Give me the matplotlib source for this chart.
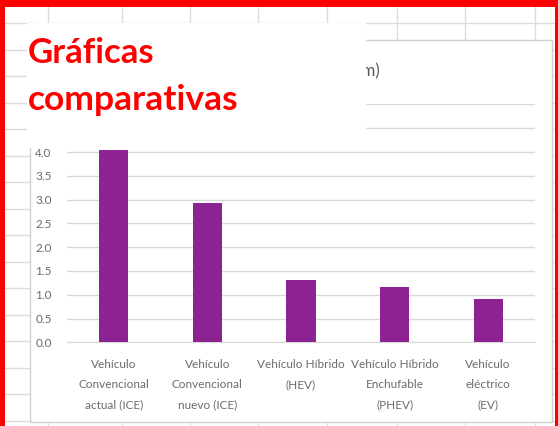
import matplotlib
matplotlib.use("Agg")
import matplotlib.pyplot as plt
from matplotlib.patches import Rectangle

# chart data
categories = [
    "Vehículo\nConvencional\nactual (ICE)",
    "Vehículo\nConvencional\nnuevo (ICE)",
    "Vehículo Híbrido\n(HEV)",
    "Vehículo Híbrido\nEnchufable\n(PHEV)",
    "Vehículo\neléctrico\n(EV)",
]
values = [4.05, 2.93, 1.30, 1.16, 0.90]
y_ticks = [0.0, 0.5, 1.0, 1.5, 2.0, 2.5, 3.0, 3.5, 4.0, 4.5, 5.0]

W, H = 558, 426
fig = plt.figure(figsize=(W / 100, H / 100), dpi=100)
plt.rcParams['font.family'] = ['Lato', 'DejaVu Sans']


def fx(px):
    return px / W


def fy(py):
    return 1 - py / H


# background: spreadsheet grid + chart area, pixel coordinates
bg = fig.add_axes([0, 0, 1, 1], zorder=0)
bg.set_xlim(0, W)
bg.set_ylim(H, 0)
bg.axis("off")
for x in [48, 122, 190, 258, 327, 397, 465, 535]:
    bg.plot([x, x], [0, H], color="#dcdcdc", lw=1, zorder=1)
y = 23.0
while y < H:
    bg.plot([0, W], [y, y], color="#dcdcdc", lw=1, zorder=1)
    y += 26.5
bg.add_patch(Rectangle((30, 40), 522, 382, facecolor="white",
                       edgecolor="#d0d0d0", lw=1, zorder=3))
bg.text(380, 76, "Coste energético (€/100 km)", ha="right", va="baseline",
        fontsize=12, color="#595959", zorder=4)

# bar chart
ax = fig.add_axes([fx(67), fy(342.3), fx(535) - fx(67), fy(104.5) - fy(342.3)],
                  zorder=1)
ax.patch.set_alpha(0)
pos = range(len(categories))
ax.bar(pos, values, width=0.31, color="#8d2391", zorder=3)
ax.set_xlim(-0.5, len(categories) - 0.5)
ax.set_ylim(0, 5)
ax.set_yticks(y_ticks)
# labels above 4.0 sit under the title box, so they stay empty
ax.set_yticklabels([f"{v:.1f}" if v <= 4.0 else "" for v in y_ticks])
ax.set_xticks(list(pos))
ax.set_xticklabels(categories, linespacing=2.0)
ax.grid(axis="y", color="#d9d9d9", lw=1, zorder=0)
for s in ["top", "right", "left"]:
    ax.spines[s].set_visible(False)
ax.spines["bottom"].set_color("#d9d9d9")
ax.tick_params(axis="y", length=0, pad=11, labelsize=8.5, labelcolor="#6b6b6b")
ax.tick_params(axis="x", length=0, pad=12, labelsize=8.5, labelcolor="#6b6b6b")

# overlay: white title box and red frame
ov = fig.add_axes([0, 0, 1, 1], zorder=5)
ov.set_xlim(0, W)
ov.set_ylim(H, 0)
ov.axis("off")
ov.patch.set_alpha(0)
ov.add_patch(Rectangle((27, 23), 339, 125, facecolor="white", edgecolor="none"))
ov.text(28, 63, "Gráficas", ha="left", va="baseline",
        fontsize=25, color="#ff0000", fontweight="bold")
ov.text(28, 110, "comparativas", ha="left", va="baseline",
        fontsize=25.5, color="#ff0000", fontweight="bold")
for r in [(0, 0, 5, H), (0, 0, W, 7), (555, 0, 3, H)]:
    ov.add_patch(Rectangle(r[:2], r[2], r[3], facecolor="#ff0000", edgecolor="none"))

fig.savefig("out.png", dpi=100)
